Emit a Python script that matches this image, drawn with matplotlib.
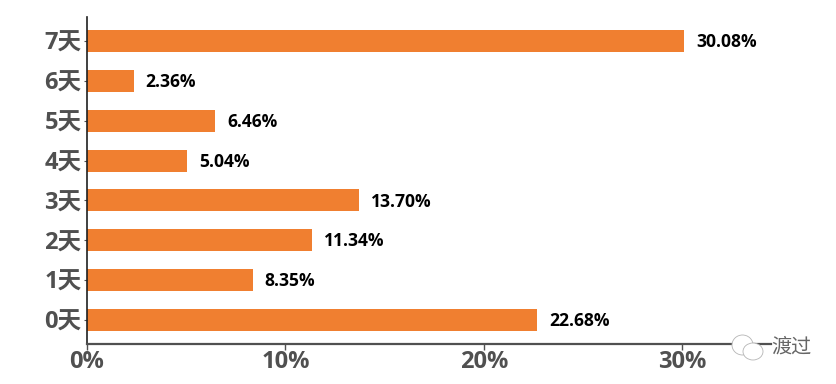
import matplotlib
matplotlib.use("Agg")
import matplotlib.pyplot as plt
from matplotlib.patches import Ellipse
from matplotlib.ticker import FuncFormatter

plt.rcParams["font.family"] = ["Open Sans", "Noto Sans CJK SC", "DejaVu Sans"]

days = ["0天", "1天", "2天", "3天", "4天", "5天", "6天", "7天"]
shares = [22.68, 8.35, 11.34, 13.70, 5.04, 6.46, 2.36, 30.08]
xticks = [0, 10, 20, 30]

W, H = 836, 384
fig = plt.figure(figsize=(W / 100, H / 100), dpi=100)
# 軸の位置はピクセルで指定
ax = fig.add_axes([87 / W, 1 - 344 / H, (771 - 87) / W, (344 - 17) / H])

ax.barh(range(len(days)), shares, height=0.55, color="#F07F30")
for i, v in enumerate(shares):
    ax.text(v + 0.6, i - 0.03, f"{v:.2f}%", va="center", ha="left", fontsize=12.6,
            fontweight="bold", color="black")

ax.set_xlim(0, 34.46)
ax.set_ylim(-0.602, 7.602)
ax.set_yticks(range(len(days)))
ax.set_yticklabels(days)
ax.set_xticks(xticks)
ax.xaxis.set_major_formatter(FuncFormatter(lambda v, p: f"{v:.0f}%"))
for lab in ax.get_xticklabels() + ax.get_yticklabels():
    lab.set_fontsize(17)
    lab.set_fontweight("bold")
    lab.set_color("#505050")

ax.spines["top"].set_visible(False)
ax.spines["right"].set_visible(False)
ax.spines["left"].set_linewidth(1.2)
ax.spines["left"].set_color("#202020")
ax.spines["bottom"].set_linewidth(1.6)
ax.spines["bottom"].set_color("#505050")
ax.tick_params(axis="y", length=2, width=0.8, pad=2, color="#505050")
ax.tick_params(axis="x", length=4, width=1.0, pad=0, color="#505050")

# 右下の透かし（吹き出し2つと文字）
def to_fig(px, py):
    return px / W, 1 - py / H

for px, py, rx, ry in [(742.5, 345, 10.5, 10), (753, 351.5, 10, 8.5)]:
    x0, y0 = to_fig(px, py)
    fig.add_artist(Ellipse((x0, y0), 2 * rx / W, 2 * ry / H, transform=fig.transFigure,
                           facecolor="white", edgecolor="#B4B4B4", linewidth=0.6, zorder=5))

x0, y0 = to_fig(771, 348)
fig.text(x0, y0, "渡过", fontsize=14.5, color="#666666", va="center", ha="left",
         fontweight="light", zorder=6)

fig.savefig("out.png", dpi=100)
